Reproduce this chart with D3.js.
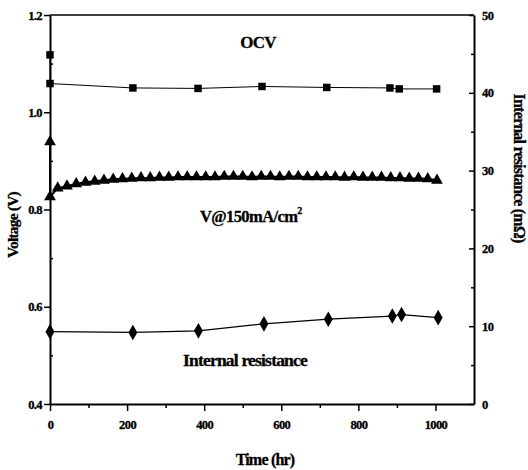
<!DOCTYPE html>
<html>
<head>
<meta charset="utf-8">
<script src="https://cdn.jsdelivr.net/npm/d3@7"></script>
<style>
  body { margin: 0; background: #fff; }
  svg text { font-family: "Liberation Serif", "Times New Roman", serif; font-weight: bold; fill: #000; stroke: #000; stroke-width: 0.3px; }
</style>
</head>
<body>
<div id="chart"></div>
<script>
// OCV (squares, left axis)
var ocvTime = [0, 0, 215, 384, 550, 718, 882, 906, 1003]
var ocvValue = [1.118, 1.059, 1.050, 1.049, 1.053, 1.051, 1.050, 1.048, 1.048]

// V@150mA/cm2 (triangles, left axis)
var vTime = [0, 0, 20, 44, 68, 92, 116, 140, 164, 188, 212, 236, 260, 284, 308, 332, 356, 380, 404, 428,
  452, 476, 500, 524, 548, 572, 596, 620, 644, 668, 692, 716, 740, 764, 788, 812, 836, 860, 884, 908,
  932, 956, 980, 1004]
var vValue = [0.939, 0.826, 0.844, 0.848, 0.853, 0.856, 0.858, 0.860, 0.862, 0.863, 0.864, 0.865, 0.865,
  0.866, 0.866, 0.867, 0.867, 0.867, 0.867, 0.867, 0.868, 0.868, 0.868, 0.867, 0.868, 0.868, 0.867,
  0.868, 0.868, 0.867, 0.867, 0.867, 0.867, 0.866, 0.867, 0.866, 0.866, 0.866, 0.865, 0.865, 0.864,
  0.864, 0.863, 0.860]

// Internal resistance (diamonds, right axis)
var irTime = [0, 215, 385, 555, 722, 888, 912, 1007]
var irValue = [9.3, 9.2, 9.4, 10.3, 10.9, 11.3, 11.5, 11.1]

var xTicks = [0, 200, 400, 600, 800, 1000]
var xMinor = [100, 300, 500, 700, 900]
var leftTicks = [0.4, 0.6, 0.8, 1.0, 1.2]
var leftMinor = [0.5, 0.7, 0.9, 1.1]
var rightTicks = [0, 10, 20, 30, 40, 50]
var rightMinor = [5, 15, 25, 35, 45]

var width = 528, height = 470
var svg = d3.select("#chart").append("svg")
  .attr("width", width)
  .attr("height", height)

var x = d3.scaleLinear().domain([0, 1100]).range([50, 474])
var yL = d3.scaleLinear().domain([0.4, 1.2]).range([404, 15])
var yR = d3.scaleLinear().domain([0, 50]).range([404, 15])

// frame top line
svg.append("line")
  .attr("x1", x(0)).attr("x2", x(1100))
  .attr("y1", yL(1.2)).attr("y2", yL(1.2))
  .attr("stroke", "#000").attr("stroke-width", 1.5)

// axes
function styleAxis(g) {
  g.select(".domain").attr("stroke-width", 2)
  g.selectAll(".tick line").attr("stroke-width", 1.5)
  g.selectAll(".tick text").style("font-size", "12.5px").style("letter-spacing", "-0.6px")
}

var xAxis = svg.append("g")
  .attr("transform", "translate(0," + yL(0.4) + ")")
  .call(d3.axisBottom(x).tickValues(xTicks).tickSize(7).tickSizeOuter(0).tickPadding(9).tickFormat(d3.format("d")))
xAxis.call(styleAxis)
svg.append("g")
  .attr("transform", "translate(0," + yL(0.4) + ")")
  .call(d3.axisBottom(x).tickValues(xMinor).tickSize(4).tickFormat(""))
  .call(function(g) { g.select(".domain").remove(); g.selectAll("line").attr("stroke-width", 1.5) })

var yAxisL = svg.append("g")
  .attr("transform", "translate(" + x(0) + ",0)")
  .call(d3.axisLeft(yL).tickValues(leftTicks).tickSize(6).tickSizeOuter(0).tickPadding(2).tickFormat(d3.format(".1f")))
yAxisL.call(styleAxis)
svg.append("g")
  .attr("transform", "translate(" + x(0) + ",0)")
  .call(d3.axisRight(yL).tickValues(leftMinor).tickSize(3).tickFormat(""))
  .call(function(g) { g.select(".domain").remove(); g.selectAll("line").attr("stroke-width", 1.5) })

var yAxisR = svg.append("g")
  .attr("transform", "translate(" + x(1100) + ",0)")
  .call(d3.axisRight(yR).tickValues(rightTicks).tickSize(-5).tickSizeOuter(0).tickPadding(8).tickFormat(d3.format("d")))
yAxisR.call(styleAxis)
svg.append("g")
  .attr("transform", "translate(" + x(1100) + ",0)")
  .call(d3.axisLeft(yR).tickValues(rightMinor).tickSize(3).tickFormat(""))
  .call(function(g) { g.select(".domain").remove(); g.selectAll("line").attr("stroke-width", 1.5) })

// lines
var ocvData = ocvTime.map(function(t, i) { return [t, ocvValue[i]] })
var vData = vTime.map(function(t, i) { return [t, vValue[i]] })
var irData = irTime.map(function(t, i) { return [t, irValue[i]] })

var lineL = d3.line().x(function(d) { return x(d[0]) }).y(function(d) { return yL(d[1]) })
var lineR = d3.line().x(function(d) { return x(d[0]) }).y(function(d) { return yR(d[1]) })

svg.append("path").datum(ocvData).attr("d", lineL)
  .attr("fill", "none").attr("stroke", "#000").attr("stroke-width", 1)
svg.append("path").datum(vData).attr("d", lineL)
  .attr("fill", "none").attr("stroke", "#000").attr("stroke-width", 2)
svg.append("path").datum(irData).attr("d", lineR)
  .attr("fill", "none").attr("stroke", "#000").attr("stroke-width", 1.2)

// markers
svg.selectAll(".sq").data(ocvData).enter().append("path")
  .attr("class", "sq")
  .attr("d", d3.symbol().type(d3.symbolSquare).size(56))
  .attr("transform", function(d) { return "translate(" + x(d[0]) + "," + yL(d[1]) + ")" })
  .attr("fill", "#000")

svg.selectAll(".tri").data(vData).enter().append("path")
  .attr("class", "tri")
  .attr("d", d3.symbol().type(d3.symbolTriangle).size(60))
  .attr("transform", function(d) { return "translate(" + x(d[0]) + "," + yL(d[1]) + ")" })
  .attr("fill", "#000")

svg.selectAll(".dia").data(irData).enter().append("path")
  .attr("class", "dia")
  .attr("d", d3.symbol().type(d3.symbolDiamond).size(70))
  .attr("transform", function(d) { return "translate(" + x(d[0]) + "," + yR(d[1]) + ")" })
  .attr("fill", "#000")

// series labels
svg.append("text").attr("x", 258).attr("y", 48).attr("text-anchor", "middle")
  .style("font-size", "17px").style("letter-spacing", "-0.8px").text("OCV")

var vLabel = svg.append("text").attr("x", 200).attr("y", 222)
  .style("font-size", "16.5px").style("letter-spacing", "-0.6px")
vLabel.append("tspan").text("V@150mA/cm")
vLabel.append("tspan").attr("dy", -8).style("font-size", "10px").text("2")

svg.append("text").attr("x", 245).attr("y", 366).attr("text-anchor", "middle")
  .style("font-size", "17.5px").style("letter-spacing", "-0.8px").text("Internal resistance")

// axis titles
svg.append("text").attr("x", 265).attr("y", 465).attr("text-anchor", "middle")
  .style("font-size", "16px").style("letter-spacing", "-0.8px").text("Time (hr)")

svg.append("text")
  .attr("transform", "translate(18,225) rotate(-90)")
  .attr("text-anchor", "middle")
  .style("font-size", "15.5px").style("letter-spacing", "-0.8px").text("Voltage (V)")

svg.append("text")
  .attr("transform", "translate(514,168) rotate(90)")
  .attr("text-anchor", "middle")
  .style("font-size", "16px").style("letter-spacing", "-0.8px").text("Internal resistance (m\u03A9)")
</script>
</body>
</html>
